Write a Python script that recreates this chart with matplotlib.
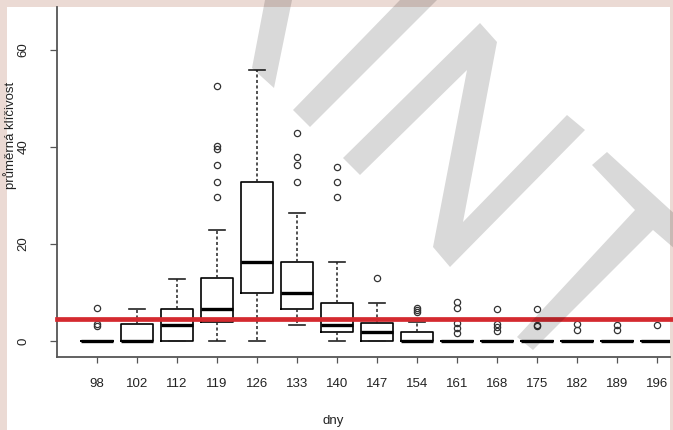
import numpy as np
import matplotlib
matplotlib.use("Agg")
import matplotlib.pyplot as plt
from matplotlib.patches import Rectangle, Polygon

plt.rcParams['font.family'] = ['Liberation Sans Narrow', 'Liberation Sans', 'DejaVu Sans']

# days of measurement and box statistics (germination)
days = ['98', '102', '112', '119', '126', '133', '140', '147', '154',
        '161', '168', '175', '182', '189', '196']
q1 = [0, 0, 0, 3.85, 9.8, 6.5, 1.8, 0, 0, 0, 0, 0, 0, 0, 0]
med = [0, 0, 3.2, 6.6, 16.35, 9.8, 3.2, 1.9, 0, 0, 0, 0, 0, 0, 0]
q3 = [0, 3.5, 6.5, 12.9, 32.8, 16.35, 7.9, 3.8, 1.8, 0, 0, 0, 0, 0, 0]
whislo = [0, 0, 0, 0, 0, 3.3, 0, 0, 0, 0, 0, 0, 0, 0, 0]
whishi = [0, 6.6, 12.8, 22.9, 55.9, 26.3, 16.35, 7.9, 4.0, 0, 0, 0, 0, 0, 0]
fliers = [
    [6.8, 3.6, 3.1],
    [],
    [],
    [52.6, 40.2, 39.6, 36.3, 32.8, 29.6],
    [],
    [42.8, 38.0, 36.3, 32.8],
    [35.9, 32.8, 29.6],
    [13.05],
    [6.9, 6.4, 5.9],
    [8.1, 6.9, 3.8, 2.7, 1.7],
    [6.6, 3.6, 2.9, 2.0],
    [6.7, 3.4, 3.0],
    [3.5, 2.3],
    [3.4, 2.3],
    [3.3],
]
threshold = 4.5

W, H = 673, 430
fig = plt.figure(figsize=(W / 100, H / 100), dpi=100, facecolor='#ebdad4')

# white page inside the pink frame
fig.patches.append(Rectangle((7 / W, 0), 663 / W, 423 / H, transform=fig.transFigure,
                             facecolor='white', edgecolor='none', zorder=-5))

ax = fig.add_axes([57 / W, 1 - 357 / H, 613 / W, 350 / H])
ax.set_facecolor('none')

stats = []
for i in range(len(days)):
    stats.append(dict(med=med[i], q1=q1[i], q3=q3[i], whislo=whislo[i],
                      whishi=whishi[i], fliers=fliers[i], label=days[i]))

ax.bxp(stats, positions=np.arange(1, len(days) + 1), widths=0.82,
       boxprops=dict(color='black', linewidth=1.2),
       medianprops=dict(color='black', linewidth=2.4, solid_capstyle='butt'),
       whiskerprops=dict(color='#222222', linewidth=1.1, linestyle=(0, (2, 1.6))),
       capprops=dict(color='#222222', linewidth=1.2),
       flierprops=dict(marker='o', markerfacecolor='none', markeredgecolor='#333333',
                       markersize=4.5, markeredgewidth=0.9))

ax.axhline(threshold, xmin=0, xmax=616 / 613, color='#d42a2f', linewidth=3.4,
           clip_on=False, zorder=5)

ax.set_xlim(0, 15.325)
ax.set_ylim(-3.3, 68.87)

for s in ['top', 'right']:
    ax.spines[s].set_visible(False)
for s in ['left', 'bottom']:
    ax.spines[s].set_color('#555555')
    ax.spines[s].set_linewidth(1.3)

ax.set_xticks(np.arange(1, len(days) + 1))
ax.set_xticklabels(days, fontsize=9.5, color='#222222')
ax.set_yticks([0, 20, 40, 60])
ax.set_yticklabels(['0', '20', '40', '60'], rotation=90, va='center',
                   fontsize=9.5, color='#222222')
ax.tick_params(axis='x', length=4, width=0.9, color='#555555', pad=11)
ax.tick_params(axis='y', length=5, width=0.9, color='#555555', pad=15)

fig.text(10 / W, 1 - 135 / H, 'průměrná klíčivost', rotation=90, ha='center',
         va='center', fontsize=9.5, color='#222222')
fig.text(333 / W, 1 - 421 / H, 'dny', ha='center', va='center', fontsize=9.5,
         color='#222222')

# grey "INT" stamp laid over the page
stamp = [
    [(265, 0), (292, 0), (274, 88), (252, 68)],
    [(400, 0), (437, 0), (310, 127), (293, 110)],
    [(343, 158), (480, 23), (497, 42), (463, 222), (567, 115), (585, 130),
     (450, 267), (433, 247), (467, 70), (360, 175)],
    [(592, 165), (607, 152), (690, 228), (690, 262), (653, 230), (533, 350),
     (517, 337), (635, 210)],
]
for pts in stamp:
    xy = [(x / W, 1 - y / H) for x, y in pts]
    fig.patches.append(Polygon(xy, closed=True, transform=fig.transFigure,
                               facecolor='black', edgecolor='none', alpha=0.15,
                               zorder=10))

fig.savefig('out.png', dpi=100, facecolor=fig.get_facecolor())
